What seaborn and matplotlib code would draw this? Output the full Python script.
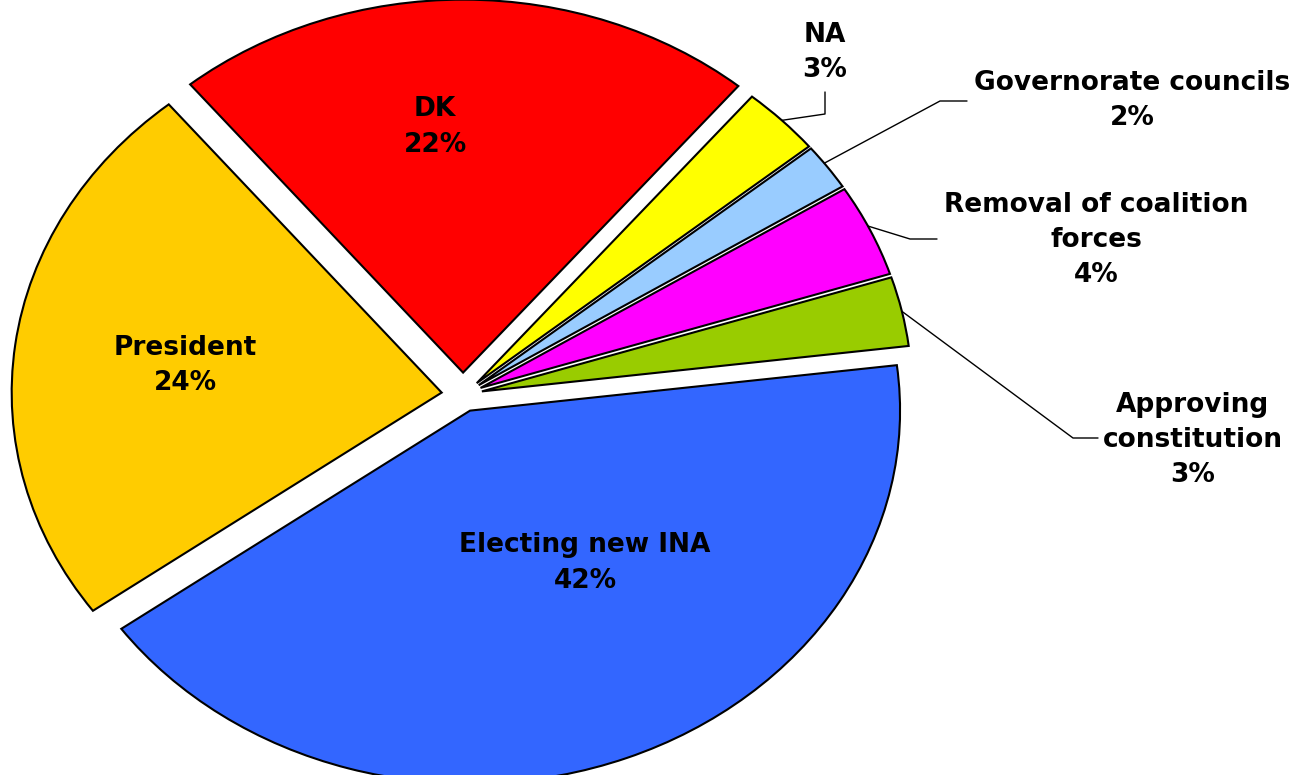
import numpy as np
import matplotlib
matplotlib.use('Agg')
import matplotlib.pyplot as plt
import seaborn as sns

# Datos
labels = ['Electing new INA', 'President', 'DK', 'NA', 'Governorate councils',
          'Removal of coalition forces', 'Approving constitution']
values = [42, 24, 22, 3, 2, 4, 3]
colors = ['#3366FF', '#FFCC00', '#FF0000', '#FFFF00', '#99CCFF', '#FF00FF', '#99CC00']
explode = [0.045, 0.05, 0.06, 0.045, 0.045, 0.045, 0.045]

sns.set_theme(style='white')
plt.rcParams['font.family'] = ['DejaVu Sans']

# Geometria (pixeles de la figura)
CX, CY, RX, RY = 463, 395, 430, 373
W, H = 1316, 775


def px(x, y):
    return (x - CX) / RX, (CY - y) / RY


fig = plt.figure(figsize=(W / 100, H / 100), dpi=100)
ax = fig.add_axes([0, 0, 1, 1])
wedges, _ = ax.pie(values, colors=colors, explode=explode, startangle=7,
                   counterclock=False,
                   wedgeprops=dict(edgecolor='black', linewidth=1.5))
ax.set_aspect('auto')
ax.set_xlim(-CX / RX, (W - CX) / RX)
ax.set_ylim(-(H - CY) / RY, CY / RY)
ax.axis('off')

txt = dict(ha='center', va='center', fontsize=19, fontweight='bold',
           color='black', linespacing=1.45)

# Etiquetas dentro de las porciones grandes
inside = {0: (585, 563), 1: (185, 365), 2: (435, 127)}
for i, (x, y) in inside.items():
    ax.text(*px(x, y), f'{labels[i]}\n{values[i]}%', **txt)

# Etiquetas exteriores con lineas guia (frac = punto de la porcion donde nace la linea)
outside = {
    3: ('NA', (825, 52), [(825, 114), (825, 92)], 0.5),
    4: ('Governorate councils', (1132, 100), [(940, 101), (967, 101)], 0.6),
    5: ('Removal of coalition\nforces', (1096, 240), [(910, 239), (937, 239)], 0.55),
    6: ('Approving\nconstitution', (1193, 440), [(1073, 438), (1098, 438)], 0.5),
}
for i, (name, pos, guide, frac) in outside.items():
    ax.text(*px(*pos), f'{name}\n{values[i]}%', **txt)
    w = wedges[i]
    ang = np.deg2rad(w.theta1 + frac * (w.theta2 - w.theta1))
    ax0 = w.center[0] + w.r * np.cos(ang)
    ay0 = w.center[1] + w.r * np.sin(ang)
    pts = [(ax0, ay0)] + [px(*p) for p in guide]
    ax.plot([p[0] for p in pts], [p[1] for p in pts], color='black', lw=1)

fig.savefig('out.png', dpi=100)
